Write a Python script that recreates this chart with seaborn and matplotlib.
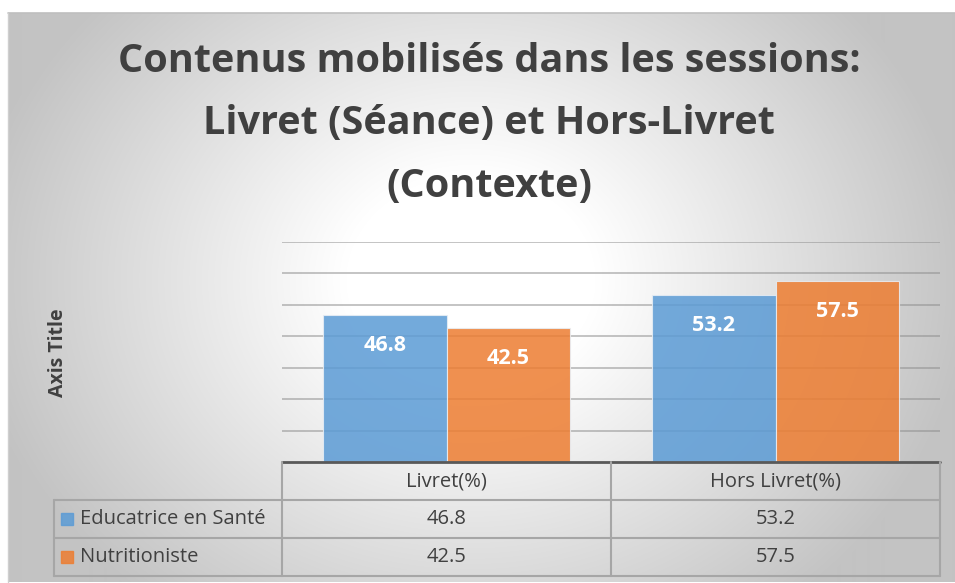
import numpy as np
import pandas as pd
import matplotlib
matplotlib.use("Agg")
import matplotlib.pyplot as plt
from matplotlib.lines import Line2D
from matplotlib.patches import Rectangle
import seaborn as sns

# ---- data ----
categories = ["Livret(%)", "Hors Livret(%)"]
series_names = ["Educatrice en Santé", "Nutritioniste"]
educatrice_values = [46.8, 53.2]
nutritioniste_values = [42.5, 57.5]
title_text = "Contenus mobilisés dans les sessions:\nLivret (Séance) et Hors-Livret\n(Contexte)"
y_axis_title = "Axis Title"

colors = ["#5b9bd5", "#ed7d31"]

df = pd.DataFrame({
    "cat": categories * 2,
    "series": [series_names[0]] * 2 + [series_names[1]] * 2,
    "val": educatrice_values + nutritioniste_values,
})

sns.set_theme(style="white")
plt.rcParams["font.family"] = ["Open Sans", "DejaVu Sans"]

W, H = 955, 583
fig = plt.figure(figsize=(W / 100, H / 100), dpi=100)
fig.patch.set_facecolor("white")

def fx(x):
    return x / W

def fy(y):
    return 1 - y / H

# ---- background gradient (chart area) ----
cx0, cy0, cx1, cy1 = 8, 13, 955, 582
bg = fig.add_axes([fx(cx0), fy(cy1), fx(cx1) - fx(cx0), fy(cy0) - fy(cy1)])
xs = np.arange(cx0, cx1)
ys = np.arange(cy0, cy1)
XX, YY = np.meshgrid(xs, ys)
d = np.sqrt(((XX - 470) / 500.0) ** 2 + ((YY - 280) / 420.0) ** 2)
g = 1.0 - (60 / 255.0) * np.clip((d - 0.25) / 0.75, 0, 1)
bg.imshow(np.dstack([g, g, g]), aspect="auto", extent=[0, 1, 0, 1], interpolation="bilinear")
bg.set_xlim(0, 1)
bg.set_ylim(0, 1)
bg.axis("off")
fig.add_artist(Line2D([fx(cx0), fx(cx1)], [fy(cy0), fy(cy0)], color="#bfbfbf", lw=1.2))
fig.add_artist(Line2D([fx(cx0), fx(cx0)], [fy(cy0), fy(cy1)], color="#cfcfcf", lw=1.0))

# ---- main axes ----
px0, px1, py0, py1 = 282, 940, 242, 462
ax = fig.add_axes([fx(px0), fy(py1), fx(px1) - fx(px0), fy(py0) - fy(py1)])
ax.patch.set_alpha(0)
sns.barplot(data=df, x="cat", y="val", hue="series", palette=colors, width=0.75,
            saturation=1, alpha=0.85, edgecolor="#e8eef5", linewidth=0.8, ax=ax,
            legend=False, zorder=2)
ax.set_ylim(0, 70)
ax.set_xlim(-0.5, 1.5)
ax.set_yticks(np.arange(10, 71, 10))
ax.yaxis.grid(True, color="#8c8c8c", lw=1.3, alpha=0.55, zorder=1)
ax.set_axisbelow(True)
ax.set_xticks([])
ax.set_yticklabels([])
ax.tick_params(left=False, bottom=False)
ax.set_xlabel("")
ax.set_ylabel("")
for s in ax.spines.values():
    s.set_visible(False)

for cont in ax.containers:
    ax.bar_label(cont, fmt="%.1f", label_type="edge", padding=-29.5, color="white",
                 fontsize=15.5, fontweight="bold")

# ---- titles ----
fig.text(fx(489), fy(124), title_text, ha="center", va="center", fontsize=28.5,
         fontweight="bold", color="#404040", linespacing=1.78)
fig.text(fx(58), fy(353), y_axis_title, rotation=90, ha="center", va="center",
         fontsize=14, fontweight="bold", color="#404040")

# ---- data table ----
lc = "#a6a6a6"
tc = "#404040"
col_x = [282, 611, 940]
lab_x0 = 54
row_y = [462, 500, 538, 576]

def hline(x0, x1, y, color=lc, lw=1.5):
    fig.add_artist(Line2D([fx(x0), fx(x1)], [fy(y), fy(y)], color=color, lw=lw))

def vline(x, y0, y1, color=lc, lw=1.5):
    fig.add_artist(Line2D([fx(x), fx(x)], [fy(y0), fy(y1)], color=color, lw=lw))

hline(col_x[0], col_x[2], row_y[0], color="#595959", lw=2.0)
hline(lab_x0, col_x[2], row_y[1])
hline(lab_x0, col_x[2], row_y[2])
hline(lab_x0, col_x[2], row_y[3])
for x in col_x:
    vline(x, row_y[0], row_y[3])
vline(lab_x0, row_y[1], row_y[3])

for j, cat in enumerate(categories):
    xc = (col_x[j] + col_x[j + 1]) / 2
    fig.text(fx(xc), fy((row_y[0] + row_y[1]) / 2), cat, ha="center", va="center",
             fontsize=14.5, color=tc)

table_values = [educatrice_values, nutritioniste_values]
for i, name in enumerate(series_names):
    yc = (row_y[i + 1] + row_y[i + 2]) / 2
    fig.add_artist(Rectangle((fx(61), fy(yc + 6)), fx(12), 12 / H, color=colors[i], alpha=0.85,
                             transform=fig.transFigure))
    fig.text(fx(80), fy(yc), name, ha="left", va="center", fontsize=14.5, color=tc)
    for j in range(len(categories)):
        xc = (col_x[j] + col_x[j + 1]) / 2
        fig.text(fx(xc), fy(yc), f"{table_values[i][j]:.1f}", ha="center", va="center",
                 fontsize=14.5, color=tc)

fig.savefig("out.png", dpi=100)
